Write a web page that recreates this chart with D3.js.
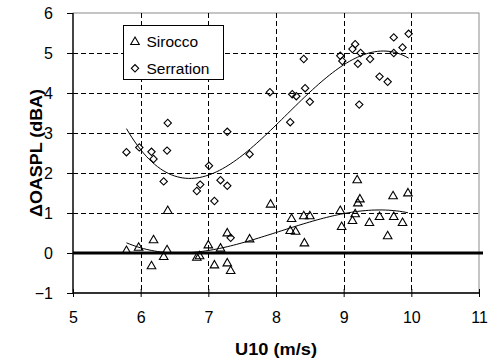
<!DOCTYPE html>
<html>
<head>
<meta charset="utf-8">
<script src="https://cdn.jsdelivr.net/npm/d3@7"></script>
<style>
  body { margin: 0; background: #fff; }
  text { font-family: "Liberation Sans", Arial, sans-serif; }
</style>
</head>
<body>
<div id="chart"></div>
<script>
// wind speed U10 (m/s) and delta OASPL (dBA)
var sirX = [5.79, 5.97, 6.19, 6.16, 6.40, 6.39, 6.34, 6.83, 6.87, 7.00, 7.09, 7.18, 7.28, 7.33, 7.28,
            7.61, 7.92, 8.23, 8.21, 8.29, 8.41, 8.50, 8.42, 8.95, 8.97, 9.20, 9.24, 9.21, 9.17, 9.13,
            9.38, 9.53, 9.65, 9.73, 9.74, 9.87, 9.95];
var sirY = [0.05, 0.13, 0.32, -0.33, 1.05, 0.07, -0.10, -0.12, -0.08, 0.19, -0.31, 0.11, -0.26, -0.45, 0.49,
            0.34, 1.21, 0.85, 0.55, 0.53, 0.92, 0.92, 0.24, 1.05, 0.65, 1.82, 1.34, 1.24, 0.97, 0.80,
            0.75, 0.90, 0.42, 1.42, 0.90, 0.75, 1.49];

var serX = [5.79, 5.98, 6.16, 6.19, 6.39, 6.34, 6.40, 6.83, 6.88, 7.01, 7.18, 7.28, 7.09, 7.33, 7.28,
            7.61, 7.91, 8.41, 8.21, 8.24, 8.30, 8.43, 8.50, 8.95, 8.98, 9.17, 9.13, 9.25, 9.21, 9.39,
            9.23, 9.53, 9.65, 9.74, 9.74, 9.87, 9.96];
var serY = [2.52, 2.64, 2.53, 2.35, 2.56, 1.79, 3.25, 1.55, 1.71, 2.18, 1.82, 1.68, 1.30, 0.38, 3.03,
            2.47, 4.02, 4.85, 3.27, 3.97, 3.92, 4.12, 3.78, 4.93, 4.80, 5.22, 5.10, 5.00, 4.73, 4.85,
            3.71, 4.41, 4.28, 5.39, 5.00, 5.14, 5.48];

var xTicks = [5, 6, 7, 8, 9, 10, 11];
var yTicks = [-1, 0, 1, 2, 3, 4, 5, 6];
var seriesNames = ["Sirocco", "Serration"];

var W = 490, H = 358;
var margin = {left: 73, right: 11, top: 13, bottom: 65};

var svg = d3.select("#chart").append("svg")
    .attr("width", W)
    .attr("height", H);

var x = d3.scaleLinear().domain([5, 11]).range([margin.left, W - margin.right]);
var y = d3.scaleLinear().domain([-1, 6]).range([H - margin.bottom, margin.top]);

// plot frame (top/right grey)
svg.append("rect")
    .attr("x", x(5)).attr("y", y(6))
    .attr("width", x(11) - x(5)).attr("height", y(-1) - y(6))
    .attr("fill", "none").attr("stroke", "#8c8c8c").attr("stroke-width", 1);

// dashed grid
svg.append("g").selectAll("line").data(xTicks.filter(function (d) {return d > 5 && d < 11;}))
  .enter().append("line")
    .attr("x1", function (d) {return Math.round(x(d)) + 0.5;})
    .attr("x2", function (d) {return Math.round(x(d)) + 0.5;})
    .attr("y1", y(6)).attr("y2", y(-1))
    .attr("stroke", "#000").attr("stroke-width", 1)
    .attr("stroke-dasharray", "5,3");
svg.append("g").selectAll("line").data(yTicks.filter(function (d) {return d > 0 && d < 6;}))
  .enter().append("line")
    .attr("y1", function (d) {return Math.round(y(d)) + 0.5;})
    .attr("y2", function (d) {return Math.round(y(d)) + 0.5;})
    .attr("x1", x(5)).attr("x2", x(11))
    .attr("stroke", "#000").attr("stroke-width", 1)
    .attr("stroke-dasharray", "5,3");

// zero line
svg.append("line")
    .attr("x1", x(5)).attr("x2", x(11) + 4)
    .attr("y1", y(0)).attr("y2", y(0))
    .attr("stroke", "#000").attr("stroke-width", 3);

// axes
var yAxis = d3.axisLeft(y).tickValues(yTicks).tickSize(6).tickPadding(14).tickFormat(d3.format("d"));
var xAxis = d3.axisBottom(x).tickValues(xTicks).tickSize(4).tickPadding(15).tickFormat(d3.format("d"));

var gy = svg.append("g").attr("transform", "translate(" + x(5) + ",0)").call(yAxis);
var gx = svg.append("g").attr("transform", "translate(0," + y(-1) + ")").call(xAxis);
gx.selectAll(".tick line").attr("y1", -4);
[gx, gy].forEach(function (g) {
  g.select(".domain").attr("stroke", "#000").attr("stroke-width", 1.3);
  g.selectAll(".tick line").attr("stroke", "#000");
  g.selectAll("text").attr("font-size", 16).attr("fill", "#000")
    .attr("font-family", "'Liberation Sans', Arial, sans-serif");
});
gy.select(".domain").attr("d", "M0," + y(-1) + "V" + y(6));
gx.select(".domain").attr("d", "M" + x(5) + ",0H" + x(11));

// axis titles
svg.append("text")
    .attr("x", (x(5) + x(11)) / 2).attr("y", 355)
    .attr("text-anchor", "middle")
    .attr("font-size", 16).attr("font-weight", "bold")
    .attr("textLength", 82).attr("lengthAdjust", "spacingAndGlyphs")
    .text("U10 (m/s)");
svg.append("text")
    .attr("transform", "translate(42," + (y(-1) + y(6)) / 2 + ") rotate(-90)")
    .attr("text-anchor", "middle")
    .attr("font-size", 17).attr("font-weight", "bold")
    .attr("textLength", 128).attr("lengthAdjust", "spacingAndGlyphs")
    .text("\u0394OASPL (dBA)");

// cubic least squares trendline (like the spreadsheet's polynomial trendline)
function polyFit(xs, ys, order) {
  var n = order + 1, A = [], i, j, k;
  for (i = 0; i < n; i++) {
    A.push([]);
    for (j = 0; j <= n; j++) A[i].push(0);
  }
  xs.forEach(function (xv, m) {
    for (i = 0; i < n; i++) {
      for (j = 0; j < n; j++) A[i][j] += Math.pow(xv, i + j);
      A[i][n] += ys[m] * Math.pow(xv, i);
    }
  });
  for (i = 0; i < n; i++) {
    var p = i;
    for (k = i + 1; k < n; k++) if (Math.abs(A[k][i]) > Math.abs(A[p][i])) p = k;
    var t = A[i]; A[i] = A[p]; A[p] = t;
    for (k = i + 1; k < n; k++) {
      var f = A[k][i] / A[i][i];
      for (j = i; j <= n; j++) A[k][j] -= f * A[i][j];
    }
  }
  var c = new Array(n);
  for (i = n - 1; i >= 0; i--) {
    var s = A[i][n];
    for (j = i + 1; j < n; j++) s -= A[i][j] * c[j];
    c[i] = s / A[i][i];
  }
  return function (xv) {
    var r = 0;
    for (var q = 0; q < n; q++) r += c[q] * Math.pow(xv, q);
    return r;
  };
}

var line = d3.line().x(function (d) {return x(d[0]);}).y(function (d) {return y(d[1]);});

function drawTrend(xs, ys) {
  var f = polyFit(xs, ys, 3);
  var lo = d3.min(xs), hi = d3.max(xs);
  var pts = d3.range(0, 101).map(function (i) {
    var xv = lo + (hi - lo) * i / 100;
    return [xv, f(xv)];
  });
  svg.append("path").attr("d", line(pts))
    .attr("fill", "none").attr("stroke", "#000").attr("stroke-width", 1);
}
drawTrend(sirX, sirY);
drawTrend(serX, serY);

// markers
var tri = d3.symbol().type(d3.symbolTriangle).size(32);
var dia = d3.symbol().type(d3.symbolSquare).size(27);

svg.append("g").selectAll("path").data(d3.zip(sirX, sirY)).enter().append("path")
    .attr("d", tri)
    .attr("transform", function (d) {return "translate(" + x(d[0]) + "," + y(d[1]) + ")";})
    .attr("fill", "none").attr("stroke", "#000").attr("stroke-width", 1.1);

svg.append("g").selectAll("path").data(d3.zip(serX, serY)).enter().append("path")
    .attr("d", dia)
    .attr("transform", function (d) {return "translate(" + x(d[0]) + "," + y(d[1]) + ") rotate(45)";})
    .attr("fill", "none").attr("stroke", "#000").attr("stroke-width", 1.1);

// legend
var lg = svg.append("g").attr("transform", "translate(123.5,25.5)");
lg.append("rect").attr("width", 100).attr("height", 54)
    .attr("fill", "#fff").attr("stroke", "#000").attr("stroke-width", 1);
lg.append("path").attr("d", tri).attr("transform", "translate(11.5,16.5)")
    .attr("fill", "none").attr("stroke", "#000").attr("stroke-width", 1.1);
lg.append("path").attr("d", dia).attr("transform", "translate(11.5,42.8) rotate(45)")
    .attr("fill", "none").attr("stroke", "#000").attr("stroke-width", 1.1);
lg.selectAll("text").data(seriesNames).enter().append("text")
    .attr("x", 23).attr("y", function (d, i) {return 21 + i * 27.5;})
    .attr("font-size", 15.5)
    .text(function (d) {return d;});
</script>
</body>
</html>
